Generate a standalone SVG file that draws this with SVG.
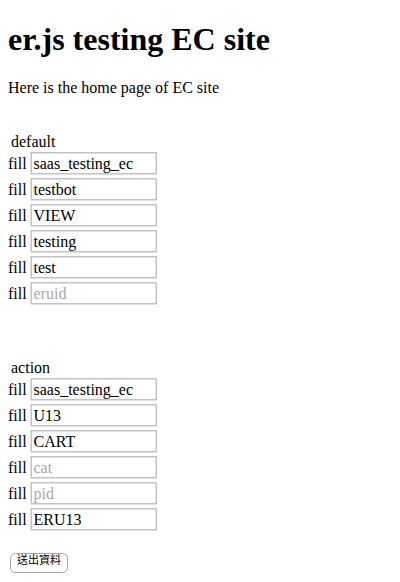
<svg xmlns="http://www.w3.org/2000/svg" width="400" height="582" viewBox="0 0 400 582">
<style>
text{font-family:"Liberation Serif","Times New Roman",serif;fill:#000}
.h1{font-size:32px;font-weight:bold}
.t{font-size:16px}
.ph{font-size:16px;fill:#a9a9a9}
.box{fill:#fff;stroke:#c3c3c3;stroke-width:1.5}
.btn{fill:#fff;stroke:#a8a8a8;stroke-width:1}
.bt{font-family:"Noto Sans CJK TC","Noto Sans CJK SC",sans-serif;font-size:11px}
</style>
<rect width="400" height="582" fill="#fff"/>
<g id="title"><text class="h1" x="8" y="50">er.js testing EC site</text></g>
<g id="intro"><text class="t" x="8" y="93">Here is the home page of EC site</text></g>
<g id="default">
<text class="t" x="11" y="147">default</text>
<g id="d1"><text class="t" x="8" y="169">fill</text><rect class="box" x="31.25" y="152.75" width="125" height="21"/><text class="t" x="33.5" y="169">saas_testing_ec</text></g>
<g id="d2"><text class="t" x="8" y="195">fill</text><rect class="box" x="31.25" y="178.75" width="125" height="21"/><text class="t" x="33.5" y="195">testbot</text></g>
<g id="d3"><text class="t" x="8" y="221">fill</text><rect class="box" x="31.25" y="204.75" width="125" height="21"/><text class="t" x="33.5" y="221">VIEW</text></g>
<g id="d4"><text class="t" x="8" y="247">fill</text><rect class="box" x="31.25" y="230.75" width="125" height="21"/><text class="t" x="33.5" y="247">testing</text></g>
<g id="d5"><text class="t" x="8" y="273">fill</text><rect class="box" x="31.25" y="256.75" width="125" height="21"/><text class="t" x="33.5" y="273">test</text></g>
<g id="d6"><text class="t" x="8" y="299">fill</text><rect class="box" x="31.25" y="282.75" width="125" height="21"/><text class="ph" x="33.5" y="299">eruid</text></g>
</g>
<g id="action">
<text class="t" x="11" y="373">action</text>
<g id="a1"><text class="t" x="8" y="395">fill</text><rect class="box" x="31.25" y="378.75" width="125" height="21"/><text class="t" x="33.5" y="395">saas_testing_ec</text></g>
<g id="a2"><text class="t" x="8" y="421">fill</text><rect class="box" x="31.25" y="404.75" width="125" height="21"/><text class="t" x="33.5" y="421">U13</text></g>
<g id="a3"><text class="t" x="8" y="447">fill</text><rect class="box" x="31.25" y="430.75" width="125" height="21"/><text class="t" x="33.5" y="447">CART</text></g>
<g id="a4"><text class="t" x="8" y="473">fill</text><rect class="box" x="31.25" y="456.75" width="125" height="21"/><text class="ph" x="33.5" y="473">cat</text></g>
<g id="a5"><text class="t" x="8" y="499">fill</text><rect class="box" x="31.25" y="482.75" width="125" height="21"/><text class="ph" x="33.5" y="499">pid</text></g>
<g id="a6"><text class="t" x="8" y="525">fill</text><rect class="box" x="31.25" y="508.75" width="125" height="21"/><text class="t" x="33.5" y="525">ERU13</text></g>
</g>
<g id="submit"><rect class="btn" x="10.5" y="553.5" width="57" height="19" rx="5"/><text class="bt" x="39" y="564" text-anchor="middle">送出資料</text></g>
</svg>
